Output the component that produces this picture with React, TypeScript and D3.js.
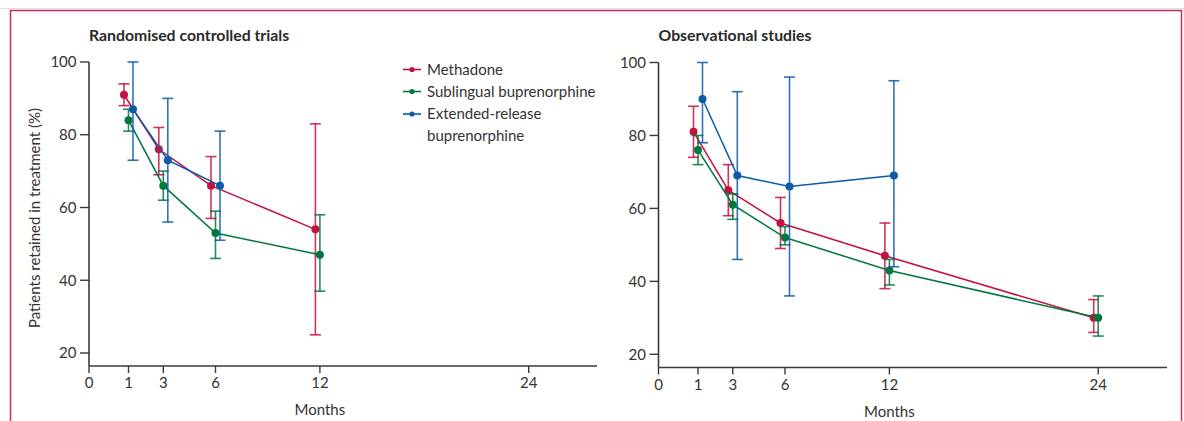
import React from "react";
import * as d3 from "d3";

// ---- data ----
const months = [1, 3, 6, 12, 24];
const xTicks = [0, 1, 3, 6, 12, 24];
const yTicks = [20, 40, 60, 80, 100];

const seriesNames = ["Methadone", "Sublingual buprenorphine", "Extended-release buprenorphine"];
const seriesColors = ["#c5113f", "#00773d", "#0b5ba7"];
const seriesDodge = [-4.5, 0, 4.5];

// Randomised controlled trials
const rctMethadone = [91, 76, 66, 54];
const rctMethadoneLo = [88, 69, 57, 25];
const rctMethadoneHi = [94, 82, 74, 83];
const rctSublingual = [84, 66, 53, 47];
const rctSublingualLo = [81, 62, 46, 37];
const rctSublingualHi = [87, 70, 59, 58];
const rctExtended = [87, 73, 66];
const rctExtendedLo = [73, 56, 51];
const rctExtendedHi = [100, 90, 81];

// Observational studies
const obsMethadone = [81, 65, 56, 47, 30];
const obsMethadoneLo = [74, 58, 49, 38, 26];
const obsMethadoneHi = [88, 72, 63, 56, 35];
const obsSublingual = [76, 61, 52, 43, 30];
const obsSublingualLo = [72, 57, 50, 39, 25];
const obsSublingualHi = [80, 64, 55, 46, 36];
const obsExtended = [90, 69, 66, 69];
const obsExtendedLo = [78, 46, 36, 44];
const obsExtendedHi = [100, 92, 96, 95];

type Pt = { m: number; v: number; lo: number; hi: number };
const build = (v: number[], lo: number[], hi: number[]): Pt[] =>
  v.map((d, i) => ({ m: months[i], v: d, lo: lo[i], hi: hi[i] }));

const rctSeries = [
  build(rctMethadone, rctMethadoneLo, rctMethadoneHi),
  build(rctSublingual, rctSublingualLo, rctSublingualHi),
  build(rctExtended, rctExtendedLo, rctExtendedHi),
];
const obsSeries = [
  build(obsMethadone, obsMethadoneLo, obsMethadoneHi),
  build(obsSublingual, obsSublingualLo, obsSublingualHi),
  build(obsExtended, obsExtendedLo, obsExtendedHi),
];

const FONT = "Lato, 'Open Sans', sans-serif";
const AXIS = "#3a3a3a";
const TEXT = "#333";

type PanelProps = {
  title: string;
  series: Pt[][];
  x0: number;
  x1: number;
  yTop: number;
  yBottom: number;
  y20: number;
};

function Panel({ title, series, x0, x1, yTop, yBottom, y20 }: PanelProps) {
  // x: 0 sits at the axis origin, months from 1 onward are linear
  const x1m = x0 + 39.5;
  const perMonth = 17.4;
  const x = d3.scaleLinear().domain([0, 1, 28]).range([x0, x1m, x1m + perMonth * 27]);
  const y = d3.scaleLinear().domain([20, 100]).range([y20, yTop]);
  const line = d3
    .line<Pt>()
    .x((d) => x(d.m))
    .y((d) => y(d.v));
  const cap = 5.5;
  return (
    <g fontFamily={FONT}>
      <text x={x0} y={40.5} fontSize={15.8} fontWeight={700} fill="#2a2a2a">
        {title}
      </text>
      {/* axes */}
      <line x1={x0} x2={x0} y1={y(100)} y2={yBottom} stroke={AXIS} strokeWidth={1.6} />
      <line x1={x0} x2={x1} y1={yBottom} y2={yBottom} stroke={AXIS} strokeWidth={1.6} />
      {yTicks.map((t) => (
        <g key={t}>
          <line x1={x0 - 9} x2={x0} y1={y(t)} y2={y(t)} stroke={AXIS} strokeWidth={1.4} />
          <text x={x0 - 12.5} y={y(t)} dy="0.35em" textAnchor="end" fontSize={15} fill={TEXT}>
            {t}
          </text>
        </g>
      ))}
      {xTicks.map((t) => (
        <g key={t}>
          <line x1={x(t)} x2={x(t)} y1={yBottom} y2={yBottom + 7} stroke={AXIS} strokeWidth={1.4} />
          <text x={x(t)} y={yBottom + 22} textAnchor="middle" fontSize={15} fill={TEXT}>
            {t}
          </text>
        </g>
      ))}
      <text x={x(12)} y={yBottom + 49} textAnchor="middle" fontSize={15} fill={TEXT}>
        Months
      </text>
      {/* series */}
      {series.map((s, si) => {
        const dx = seriesDodge[si];
        const c = seriesColors[si];
        return (
          <g key={si} transform={`translate(${dx},0)`}>
            {s.map((d, i) => (
              <g key={i} stroke={c} strokeOpacity={0.85} strokeWidth={1.6}>
                <line x1={x(d.m)} x2={x(d.m)} y1={y(d.lo)} y2={y(d.hi)} />
                <line x1={x(d.m) - cap} x2={x(d.m) + cap} y1={y(d.lo)} y2={y(d.lo)} />
                <line x1={x(d.m) - cap} x2={x(d.m) + cap} y1={y(d.hi)} y2={y(d.hi)} />
              </g>
            ))}
            <path d={line(s) || ""} fill="none" stroke={c} strokeWidth={1.5} />
            {s.map((d, i) => (
              <circle key={i} cx={x(d.m)} cy={y(d.v)} r={4} fill={c} />
            ))}
          </g>
        );
      })}
    </g>
  );
}

export default function App() {
  const legendX = 403;
  const legendY = [69.5, 91.5, 114];
  return (
    <svg
      width={1184}
      height={421}
      style={{ position: "absolute", left: 0, top: 0, background: "#fff" }}
    >
      <rect x={0} y={0} width={1184} height={421} fill="#fff" />
      <line x1={0} x2={1184} y1={8.5} y2={8.5} stroke="#e2e2e2" strokeWidth={1} />
      <rect x={10.5} y={10.5} width={1171} height={430} fill="none" stroke="#cc2a5a" strokeWidth={1.5} />

      <Panel
        title="Randomised controlled trials"
        series={rctSeries}
        x0={89}
        x1={597}
        yTop={62}
        yBottom={366}
        y20={353}
      />
      <Panel
        title="Observational studies"
        series={obsSeries}
        x0={658.5}
        x1={1167}
        yTop={62.5}
        yBottom={367.5}
        y20={354.3}
      />

      <text
        transform="translate(40,218) rotate(-90)"
        textAnchor="middle"
        fontFamily={FONT}
        fontSize={15}
        fill={TEXT}
      >
        Patients retained in treatment (%)
      </text>

      {/* legend */}
      <g fontFamily={FONT} fontSize={15} fill={TEXT}>
        {seriesNames.map((n, i) => (
          <g key={n}>
            <line
              x1={legendX}
              x2={legendX + 18}
              y1={legendY[i]}
              y2={legendY[i]}
              stroke={seriesColors[i]}
              strokeWidth={1.6}
            />
            <circle cx={legendX + 9} cy={legendY[i]} r={2.6} fill={seriesColors[i]} />
          </g>
        ))}
        <text x={427} y={legendY[0] + 5}>Methadone</text>
        <text x={427} y={legendY[1] + 5}>Sublingual buprenorphine</text>
        <text x={427} y={legendY[2] + 5}>Extended-release</text>
        <text x={427} y={legendY[2] + 27}>buprenorphine</text>
      </g>
    </svg>
  );
}
